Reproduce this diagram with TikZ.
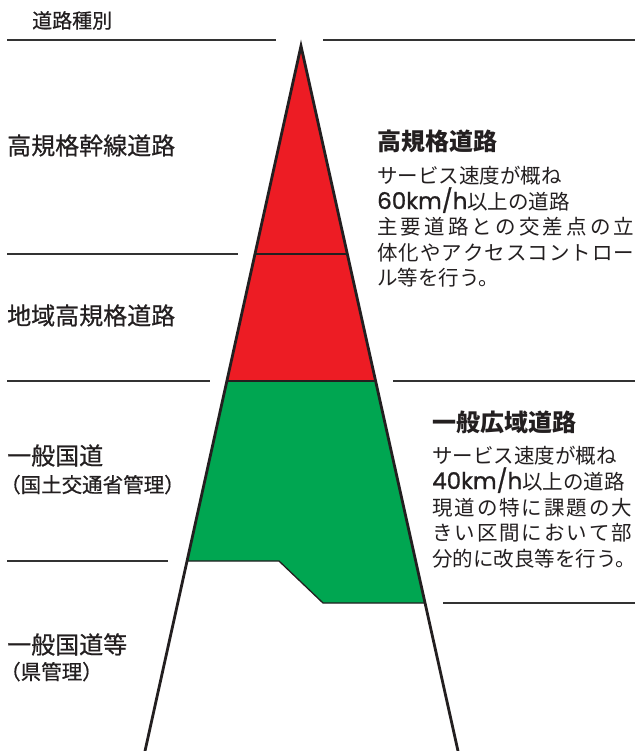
\documentclass[tikz,border=0pt]{standalone}
\usepackage{fontspec}
\setmainfont{Noto Sans CJK JP}
\newfontfamily\jpmed{Noto Sans CJK JP}[FakeBold=0.6]
\newfontfamily\numfont{Poppins}[FakeBold=0.9]
\usetikzlibrary{calc}
\definecolor{ink}{HTML}{231F20}
\definecolor{rulec}{HTML}{333333}
\definecolor{redfill}{HTML}{ED1C24}
\definecolor{greenfill}{HTML}{00A651}
\newcommand\jst[2]{\makebox[#1][s]{#2}}
\begin{document}
\begin{tikzpicture}[x=1pt,y=-1pt,
  lbl/.style={inner sep=0pt, anchor=base west, text=ink},
  leftlbl/.style={lbl, font=\jpmed\fontsize{24}{28}\selectfont},
  sublbl/.style={lbl, font=\jpmed\fontsize{20.5}{24}\selectfont},
  headlbl/.style={lbl, font=\bfseries\fontsize{24}{28}\selectfont},
  bodylbl/.style={lbl, font=\fontsize{20.5}{24}\selectfont},
  rule/.style={draw=rulec, line width=1.2pt},
  inner/.style={draw=ink, line width=1.3pt, line join=round},
  edge/.style={draw=ink, line width=2.8pt, line join=miter}]
\useasboundingbox (0,0) rectangle (635,751);
\fill[white] (0,0) rectangle (635,751);
\begin{scope}
\clip (0,0) rectangle (635,751);
% triangle geometry
\coordinate (apex) at (301,46);
\coordinate (bl) at (145,751);
\coordinate (br) at (458,751);
\coordinate (L254) at ($(apex)!0.2950!(bl)$);
\coordinate (R254) at ($(apex)!0.2950!(br)$);
\coordinate (L381) at ($(apex)!0.4752!(bl)$);
\coordinate (R381) at ($(apex)!0.4752!(br)$);
\coordinate (L561) at ($(apex)!0.7305!(bl)$);
\coordinate (R603) at ($(apex)!0.7901!(br)$);
\coordinate (S1) at (279,561);
\coordinate (S2) at (323,603);
% fills
\fill[redfill] (apex) -- (L381) -- (R381) -- cycle;
\fill[greenfill] (L381) -- (R381) -- (R603) -- (S2) -- (S1) -- (L561) -- cycle;
% inner lines
\draw[inner] (L254) -- (R254);
\draw[inner] (L381) -- (R381);
\draw[inner] (R603) -- (S2) -- (S1) -- (L561);
% outline
\draw[edge] (bl) -- (apex) -- (br);
% horizontal rules
\draw[rule] (7,40) -- (276,40);
\draw[rule] (323,40) -- (635,40);
\draw[rule] (7,254) -- (238,254);
\draw[rule] (7,381) -- (210,381);
\draw[rule] (393,381) -- (635,381);
\draw[rule] (7,561) -- (168,561);
\draw[rule] (443,603) -- (635,603);
\end{scope}
% left labels
\node[lbl, font=\jpmed\fontsize{20}{24}\selectfont] (kind) at (32,28) {道路種別};
\node[leftlbl] (l1) at (7,154.6) {高規格幹線道路};
\node[leftlbl] (l2) at (7,324.6) {地域高規格道路};
\node[leftlbl] (l3) at (7,464.6) {一般国道};
\node[sublbl] (l3s) at (0,492.4) {（国土交通省管理）};
\node[leftlbl] (l4) at (7,653.6) {一般国道等};
\node[sublbl] (l4s) at (0,679.4) {（県管理）};
% right block 1
\node[headlbl] (h1) at (377,150.6) {高規格道路};
\node[bodylbl] (b11) at (377,183.5) {サービス速度が概ね};
\node[bodylbl] (b12) at (377,209) {{\numfont\fontsize{23}{24}\selectfont 60km/h}以上の道路};
\node[bodylbl] (b13) at (377,234.5) {\jst{257pt}{主\hfil 要\hfil 道\hfil 路\hfil と\hfil の\hfil 交\hfil 差\hfil 点\hfil の\hfil 立}};
\node[bodylbl] (b14) at (377,260) {\jst{257pt}{体\hfil 化\hfil や\hfil ア\hfil ク\hfil セ\hfil ス\hfil コ\hfil ン\hfil ト\hfil ロ\hfil ー}};
\node[bodylbl] (b15) at (377,285.5) {ル等を行う。};
% right block 2
\node[headlbl] (h2) at (432,431.6) {一般広域道路};
\node[bodylbl] (b21) at (432,463) {サービス速度が概ね};
\node[bodylbl] (b22) at (432,489) {{\numfont\fontsize{23}{24}\selectfont 40km/h}以上の道路};
\node[bodylbl] (b23) at (432,515) {\jst{200pt}{現\hfil 道\hfil の\hfil 特\hfil に\hfil 課\hfil 題\hfil の\hfil 大}};
\node[bodylbl] (b24) at (432,540.5) {\jst{200pt}{き\hfil い\hfil 区\hfil 間\hfil に\hfil お\hfil い\hfil て\hfil 部}};
\node[bodylbl] (b25) at (432,566.5) {分的に改良等を行う。};
\end{tikzpicture}
\end{document}
